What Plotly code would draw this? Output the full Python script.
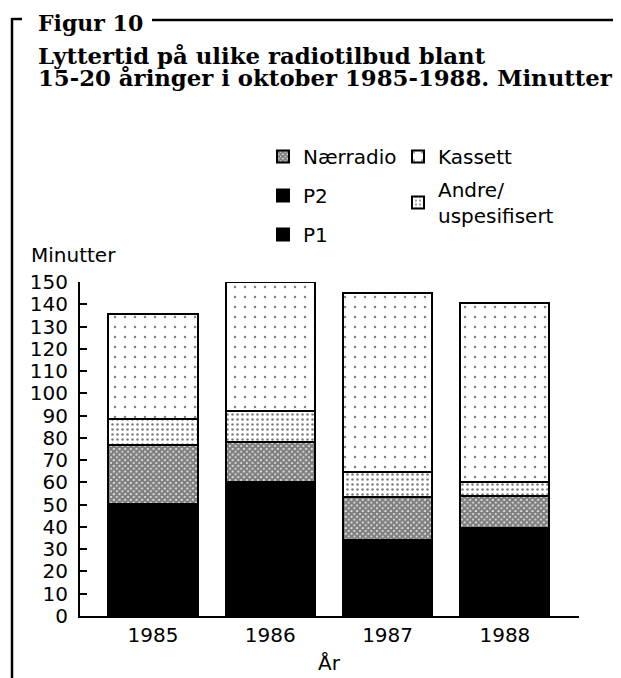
import plotly.graph_objects as go

# ---- data ----
years = ["1985", "1986", "1987", "1988"]
p1 = [50.5, 60, 34, 39.5]
p2 = [0, 0, 0, 0]
naerradio = [26.3, 18, 19.5, 14.5]
andre = [11.5, 14, 11, 6]
kassett = [47.2, 58, 80.5, 80.5]
y_ticks = list(range(0, 151, 10))

# ---- layout geometry (screen pixels; page has an 8px body margin) ----
OFF = 8
FW, FH = 621 - OFF, 678 - OFF
L, R, T, B = 80, 579, 282, 616          # plot area in screen pixels
W, H = R - L, B - T
CENTER0, STEP = 153, 117.3              # bar centre positions in screen pixels


def px(x):
    return (x - L) / W


def py(y):
    return (B - y) / H


xpos = list(range(len(years)))
SANS = "DejaVu Sans"
SERIF = "DejaVu Serif"

fig = go.Figure()

line = dict(color="black", width=2)
fig.add_trace(go.Bar(x=xpos, y=p1, name="P1", marker=dict(color="black", line=line),
                     legend="legend", legendgroup="p1", legendrank=3))
fig.add_trace(go.Bar(x=xpos, y=p2, name="P2", marker=dict(color="black", line=line),
                     legend="legend", legendgroup="p2", legendrank=2))
fig.add_trace(go.Bar(x=xpos, y=naerradio, name="Nærradio",
                     marker=dict(color="white", line=line,
                                 pattern=dict(shape="x", fgcolor="black", bgcolor="white",
                                              size=4, solidity=0.85)),
                     legend="legend", legendgroup="nr", legendrank=1))
fig.add_trace(go.Bar(x=xpos, y=andre, name="Andre/<br>uspesifisert",
                     marker=dict(color="white", line=line,
                                 pattern=dict(shape=".", fgcolor="black", bgcolor="white",
                                              size=5, solidity=0.2)),
                     legend="legend2", legendgroup="an", legendrank=2))
fig.add_trace(go.Bar(x=xpos, y=kassett, name="Kassett",
                     marker=dict(color="white", line=line,
                                 pattern=dict(shape=".", fgcolor="black", bgcolor="white",
                                              size=10, solidity=0.05)),
                     legend="legend2", legendgroup="ka", legendrank=1))

fig.update_layout(
    barmode="stack",
    bargap=0.24,
    width=FW, height=FH,
    margin=dict(l=L - OFF, r=FW - (R - OFF), t=T - OFF, b=FH - (B - OFF), pad=0),
    paper_bgcolor="white", plot_bgcolor="white",
    font=dict(family=SANS, size=20, color="black"),
    xaxis=dict(range=[(L - CENTER0) / STEP, (R - CENTER0) / STEP],
               tickvals=xpos, ticktext=years, ticks="", showgrid=False,
               zeroline=False, showline=True, linecolor="black", linewidth=2,
               tickfont=dict(family=SANS, size=20)),
    yaxis=dict(range=[0, 150], tickvals=y_ticks, ticks="inside", ticklen=7,
               tickwidth=2, tickcolor="black", showgrid=False, zeroline=False,
               showline=True, linecolor="black", linewidth=2,
               ticklabelstandoff=6,
               tickfont=dict(family=SANS, size=20)),
    legend=dict(x=px(263), y=py(137), xanchor="left", yanchor="top",
                traceorder="grouped", tracegroupgap=10,
                font=dict(family=SANS, size=20), bgcolor="rgba(0,0,0,0)",
                itemclick=False),
    legend2=dict(x=px(398), y=py(137), xanchor="left", yanchor="top",
                 traceorder="grouped", tracegroupgap=4,
                 font=dict(family=SANS, size=20), bgcolor="rgba(0,0,0,0)",
                 itemclick=False),
    showlegend=True,
)

annotations = [
    dict(text="<b>Figur 10</b>", x=px(36), y=py(23), xanchor="left", yanchor="middle",
         font=dict(family=SERIF, size=22)),
    dict(text="<b>Lyttertid på ulike radiotilbud blant</b>", x=px(36), y=py(56),
         xanchor="left", yanchor="middle", font=dict(family=SERIF, size=22.8)),
    dict(text="<b>15-20 åringer i oktober 1985-1988. Minutter</b>", x=px(36), y=py(78),
         xanchor="left", yanchor="middle", font=dict(family=SERIF, size=22.8)),
    dict(text="Minutter", x=px(29), y=py(255), xanchor="left", yanchor="middle",
         font=dict(family=SANS, size=20)),
    dict(text="År", x=px((L + R) / 2), y=py(663), xanchor="center", yanchor="middle",
         font=dict(family=SANS, size=20)),
]
for a in annotations:
    a.update(xref="paper", yref="paper", showarrow=False)
fig.update_layout(annotations=annotations)

shapes = [
    dict(type="line", x0=px(12), x1=px(12), y0=py(18), y1=py(690)),
    dict(type="line", x0=px(12), x1=px(22), y0=py(19), y1=py(19)),
    dict(type="line", x0=px(152), x1=px(625), y0=py(20), y1=py(20)),
]
for s in shapes:
    s.update(xref="paper", yref="paper", line=dict(color="black", width=2.5))
fig.update_layout(shapes=shapes)

fig.write_html("out.html")
